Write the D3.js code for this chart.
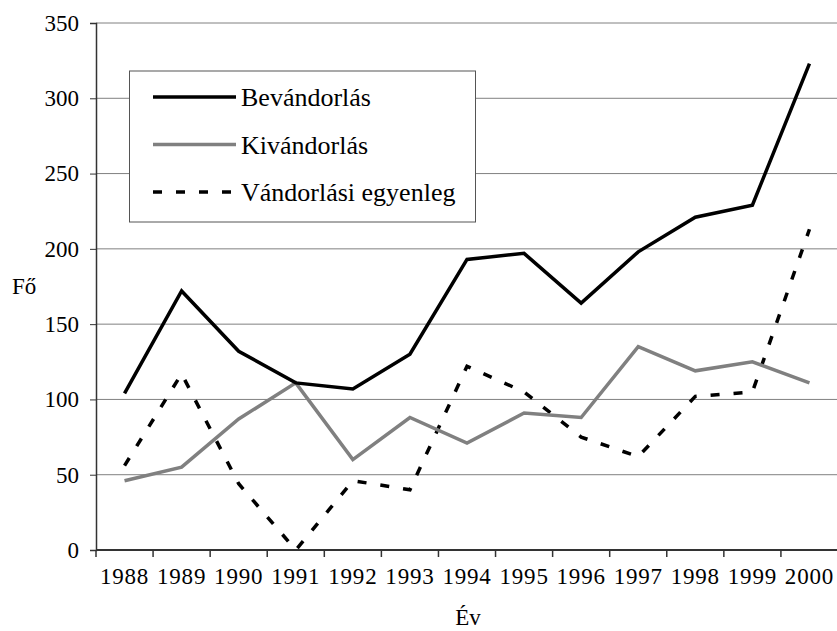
<!DOCTYPE html>
<meta charset="utf-8">
<style>
body { margin: 0; background: #fff; }
svg text { font-family: "Liberation Serif", "Times New Roman", serif; fill: #000; }
.axis text { font-size: 23px; }
.axis.x text { letter-spacing: 0.8px; }
.axis path, .axis line { stroke: #333; }
.grid line { stroke: #808080; stroke-width: 1; }
.legend text { font-size: 26px; }
</style>
<svg width="837" height="631"></svg>
<script src="https://d3js.org/d3.v7.min.js"></script>
<script>

var years = ["1988","1989","1990","1991","1992","1993","1994","1995","1996","1997","1998","1999","2000"];
var bevandorlas = [104, 172, 132, 111, 107, 130, 193, 197, 164, 198, 221, 229, 323];
var kivandorlas = [46, 55, 87, 111, 60, 88, 71, 91, 88, 135, 119, 125, 111];
var egyenleg = [56, 117, 44, 0, 46, 40, 122, 105, 75, 62, 102, 105, 213];
var yTicks = [0, 50, 100, 150, 200, 250, 300, 350];
var seriesNames = ["Bevándorlás", "Kivándorlás", "Vándorlási egyenleg"];

var svg = d3.select("svg");
var plotLeft = 96, plotRight = 838, plotTop = 23, plotBottom = 550;
var serif = "'Liberation Serif', 'Times New Roman', serif";

var x = d3.scaleBand().domain(years).range([plotLeft, plotRight]).padding(0);
var y = d3.scaleLinear().domain([0, 350]).range([plotBottom, plotTop]);

// gridlines
svg.append("g").attr("class", "grid")
	.selectAll("line").data(yTicks.slice(1)).enter().append("line")
	.attr("x1", plotLeft).attr("x2", plotRight)
	.attr("y1", function(d) { return y(d); }).attr("y2", function(d) { return y(d); });

// y axis
var yAxis = svg.append("g").attr("class", "axis y")
	.attr("transform", "translate(" + plotLeft + ",0)")
	.call(d3.axisLeft(y).tickValues(yTicks).tickSize(6).tickPadding(11))
	.attr("font-family", serif);
yAxis.select(".domain").attr("stroke-width", 1.5);

// x axis labels
var xAxis = svg.append("g").attr("class", "axis x")
	.attr("transform", "translate(0," + plotBottom + ")")
	.call(d3.axisBottom(x).tickSize(0).tickPadding(18))
	.attr("font-family", serif);
xAxis.select(".domain").remove();

svg.append("line")
	.attr("x1", plotLeft).attr("x2", plotRight)
	.attr("y1", plotBottom).attr("y2", plotBottom)
	.attr("stroke", "#333").attr("stroke-width", 2);

// x tick marks at category boundaries
var bounds = years.map(function(d) { return x(d); }).concat([plotRight]);
svg.append("g").selectAll("line").data(bounds).enter().append("line")
	.attr("x1", function(d) { return d; }).attr("x2", function(d) { return d; })
	.attr("y1", plotBottom).attr("y2", plotBottom + 7)
	.attr("stroke", "#333").attr("stroke-width", 1.5);

var line = d3.line()
	.x(function(d, i) { return x(years[i]) + x.bandwidth() / 2; })
	.y(function(d) { return y(d); });

var styles = [
	{ color: "#000", dash: null },
	{ color: "#808080", dash: null },
	{ color: "#000", dash: "9,14" }
];
var allSeries = [bevandorlas, kivandorlas, egyenleg];

// draw dashed first so solid lines sit on top
[2, 1, 0].forEach(function(k) {
	svg.append("path")
		.datum(allSeries[k])
		.attr("fill", "none")
		.attr("stroke", styles[k].color)
		.attr("stroke-width", 3.5)
		.attr("stroke-dasharray", styles[k].dash)
		.attr("d", line);
});

// axis titles
svg.append("text").attr("x", 12).attr("y", 294).style("font-size", "23px").text("Fő");
svg.append("text").attr("x", 468).attr("y", 625).attr("text-anchor", "middle").style("font-size", "23px").text("Év");

// legend
var legend = svg.append("g").attr("class", "legend");
legend.append("rect")
	.attr("x", 129.5).attr("y", 71).attr("width", 346).attr("height", 151)
	.attr("fill", "#fff").attr("stroke", "#555").attr("stroke-width", 1);

var rows = legend.selectAll("g.row").data(seriesNames).enter().append("g")
	.attr("class", "row")
	.attr("transform", function(d, i) { return "translate(0," + (97 + i * 47.5) + ")"; });
rows.append("line")
	.attr("x1", 153).attr("x2", 236).attr("y1", 0).attr("y2", 0)
	.attr("stroke", function(d, i) { return styles[i].color; })
	.attr("stroke-width", 3.5)
	.attr("stroke-dasharray", function(d, i) { return styles[i].dash; });
rows.append("text")
	.attr("x", 241).attr("y", 9)
	.text(function(d) { return d; });

</script>
